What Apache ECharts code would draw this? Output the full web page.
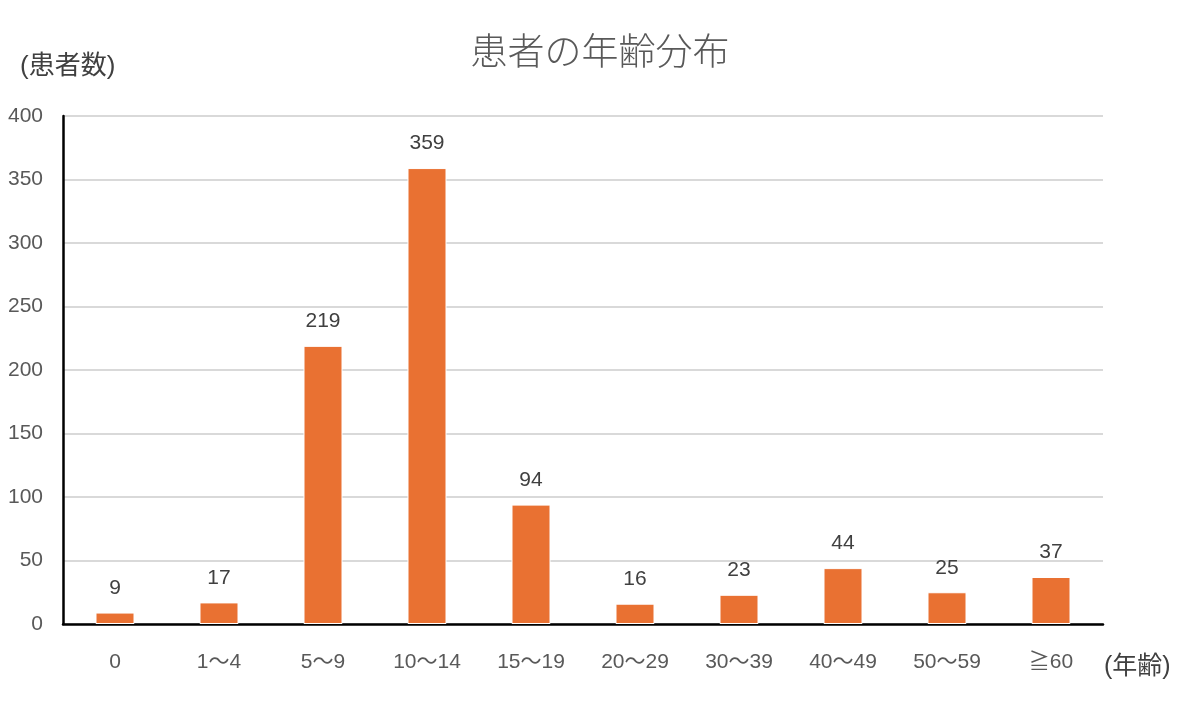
<!DOCTYPE html>
<html>
<head>
<meta charset="utf-8">
<script src="https://cdn.jsdelivr.net/npm/echarts@6/dist/echarts.min.js"></script>
<style>
html,body{margin:0;padding:0;background:#fff;}
#chart{width:1200px;height:708px;}
</style>
</head>
<body>
<div id="chart"></div>
<script>
const categories = ['0', '1～4', '5～9', '10～14', '15～19', '20～29', '30～39', '40～49', '50～59', '≧60'];
const patients = [9, 17, 219, 359, 94, 16, 23, 44, 25, 37];
const yTicks = { min: 0, max: 400, interval: 50 };
const titleText = '患者の年齢分布';
const yName = '(患者数)';
const xName = '(年齢)';

const font = '"Liberation Sans", "Noto Sans CJK JP", sans-serif';
const chart = echarts.init(document.getElementById('chart'));
chart.setOption({
  backgroundColor: '#ffffff',
  animation: false,
  title: {
    text: titleText,
    left: 'center',
    top: 27,
    textStyle: { fontFamily: '"Noto Sans CJK JP", sans-serif', fontSize: 37, fontWeight: 300, color: '#595959' }
  },
  grid: { left: 63, right: 97, top: 116, bottom: 84 },
  xAxis: {
    type: 'category',
    data: categories,
    axisLine: { lineStyle: { color: '#000000', width: 2.5 } },
    axisTick: { show: false },
    axisLabel: { fontFamily: font, fontSize: 21, color: '#595959', margin: 28 }
  },
  yAxis: {
    type: 'value',
    min: yTicks.min,
    max: yTicks.max,
    interval: yTicks.interval,
    axisLine: { show: true, lineStyle: { color: '#000000', width: 2.5 } },
    axisTick: { show: false },
    splitLine: { lineStyle: { color: '#d9d9d9', width: 2 } },
    axisLabel: { fontFamily: font, fontSize: 21, color: '#595959', margin: 20 }
  },
  graphic: [
    { type: 'text', left: 20, top: 54, style: { text: yName, font: '26px ' + font, fill: '#404040' } },
    { type: 'text', left: 1104, top: 655, style: { text: xName, font: '25px ' + font, fill: '#404040' } }
  ],
  series: [{
    type: 'bar',
    data: patients,
    barWidth: 39,
    itemStyle: { color: '#E97132', borderColor: '#ffffff', borderWidth: 1 },
    label: {
      show: true,
      position: 'top',
      distance: 14,
      fontFamily: font,
      fontSize: 21,
      color: '#404040'
    }
  }]
});
</script>
</body>
</html>
